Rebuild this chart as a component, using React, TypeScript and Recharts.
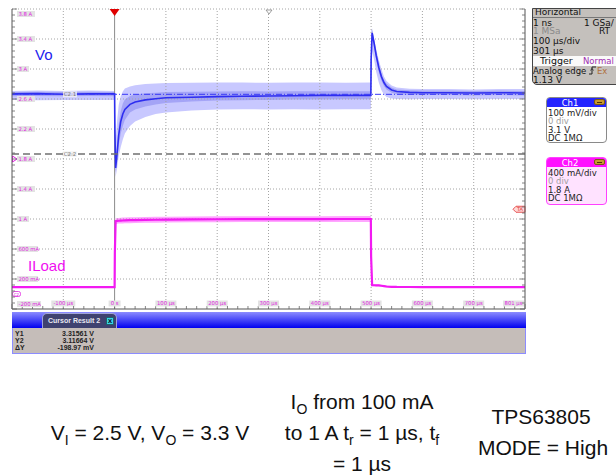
import React from 'react';
import { ComposedChart, Line, Area, XAxis, YAxis, ReferenceLine } from 'recharts';

// ---- data (time in µs) ----
const timeUs = [-200, -150, -100, -50, 0, 0.5, 2, 5, 8, 12, 16, 20, 30, 40, 60, 80, 100, 150, 200, 250, 300, 350, 400, 450, 499.5, 500, 502, 506, 510, 515, 520, 525, 530, 540, 550, 575, 600, 650, 700, 750, 800];

const voMean = [3.317, 3.318, 3.316, 3.317, 3.317, 3.2, 3.07, 3.12, 3.18, 3.225, 3.25, 3.265, 3.282, 3.29, 3.297, 3.301, 3.304, 3.306, 3.308, 3.309, 3.31, 3.311, 3.312, 3.312, 3.312, 3.43, 3.52, 3.485, 3.445, 3.405, 3.375, 3.355, 3.342, 3.33, 3.325, 3.322, 3.321, 3.321, 3.32, 3.321, 3.32];
const voOuterLo = [3.297, 3.296, 3.297, 3.297, 3.297, 3.1, 3.04, 3.07, 3.11, 3.14, 3.165, 3.185, 3.21, 3.225, 3.24, 3.25, 3.255, 3.262, 3.265, 3.266, 3.265, 3.266, 3.265, 3.266, 3.266, 3.3, 3.46, 3.43, 3.39, 3.355, 3.33, 3.315, 3.307, 3.302, 3.3, 3.299, 3.3, 3.3, 3.299, 3.3, 3.3];
const voOuterHi = [3.327, 3.328, 3.327, 3.328, 3.327, 3.31, 3.16, 3.23, 3.28, 3.31, 3.325, 3.335, 3.342, 3.346, 3.35, 3.352, 3.353, 3.354, 3.355, 3.355, 3.354, 3.355, 3.355, 3.354, 3.355, 3.53, 3.535, 3.5, 3.465, 3.43, 3.4, 3.375, 3.36, 3.345, 3.338, 3.334, 3.333, 3.333, 3.332, 3.333, 3.333];
const voInnerLo = [3.309, 3.31, 3.309, 3.31, 3.309, 3.14, 3.055, 3.095, 3.145, 3.185, 3.21, 3.23, 3.255, 3.265, 3.275, 3.282, 3.287, 3.292, 3.295, 3.296, 3.297, 3.298, 3.298, 3.299, 3.299, 3.36, 3.505, 3.47, 3.43, 3.39, 3.362, 3.343, 3.332, 3.321, 3.316, 3.314, 3.313, 3.313, 3.312, 3.313, 3.312];
const voInnerHi = [3.323, 3.324, 3.323, 3.324, 3.323, 3.26, 3.09, 3.15, 3.215, 3.26, 3.285, 3.298, 3.31, 3.315, 3.319, 3.321, 3.323, 3.324, 3.325, 3.326, 3.325, 3.326, 3.326, 3.326, 3.326, 3.48, 3.53, 3.495, 3.455, 3.415, 3.385, 3.365, 3.352, 3.338, 3.332, 3.329, 3.328, 3.328, 3.327, 3.328, 3.327];

const iLoad = [0.092, 0.093, 0.092, 0.093, 0.092, 0.55, 0.972, 0.975, 0.977, 0.979, 0.98, 0.982, 0.984, 0.986, 0.988, 0.99, 0.992, 0.995, 0.997, 0.998, 0.998, 0.999, 0.999, 1.0, 1.0, 0.5, 0.118, 0.117, 0.116, 0.114, 0.11, 0.105, 0.1, 0.096, 0.094, 0.093, 0.092, 0.092, 0.092, 0.092, 0.092];
const iLoadLo = [0.08, 0.081, 0.08, 0.081, 0.08, 0.5, 0.935, 0.937, 0.939, 0.94, 0.941, 0.943, 0.945, 0.947, 0.949, 0.951, 0.953, 0.956, 0.958, 0.959, 0.959, 0.96, 0.96, 0.961, 0.961, 0.45, 0.106, 0.105, 0.104, 0.102, 0.098, 0.093, 0.088, 0.084, 0.082, 0.081, 0.08, 0.08, 0.08, 0.08, 0.08];
const iLoadHi = [0.104, 0.105, 0.104, 0.105, 0.104, 0.6, 1.01, 1.013, 1.015, 1.017, 1.019, 1.021, 1.023, 1.025, 1.027, 1.029, 1.031, 1.034, 1.036, 1.037, 1.037, 1.038, 1.038, 1.039, 1.039, 0.55, 0.13, 0.129, 0.128, 0.126, 0.122, 0.117, 0.112, 0.108, 0.106, 0.105, 0.104, 0.104, 0.104, 0.104, 0.104];

// ---- axes / ticks ----
const xMajorTicks = [-200, -100, 0, 100, 200, 300, 400, 500, 600, 700, 800];
const xTickLabels = ['', '-100 µs', '0 s', '100 µs', '200 µs', '300 µs', '400 µs', '500 µs', '600 µs', '700 µs', '801 µs'];
const yMajorTicks = [-0.2, 0.2, 0.6, 1.0, 1.4, 1.8, 2.2, 2.6, 3.0, 3.4, 3.8];
const yTickLabels = ['-200 mA', '200 mA', '600 mA', '1 A', '1.4 A', '1.8 A', '2.2 A', '2.6 A', '3 A', '3.4 A', '3.8 A'];
const xMinorTicks = Array.from({ length: 51 }, (_, k) => -200 + 20 * k);
const yMinorTicks = Array.from({ length: 51 }, (_, k) => Math.round((-0.2 + 0.08 * k) * 1000) / 1000);

const iDomain = [-0.2, 3.8];
const vDomain = [2.6, 3.6];
const cursorY1 = 3.31561;
const cursorY2 = 3.11664;
const trigLevel = 1.13;
const horizPos = 301;
const ch2Offset = 1.8;

const cursorRows = [
  ['Y1', '3.31561 V'],
  ['Y2', '3.11664 V'],
  ['ΔY', '-198.97 mV'],
];

const data = timeUs.map((t, i) => ({
  t,
  vo: voMean[i],
  voOuter: [voOuterLo[i], voOuterHi[i]],
  voInner: [voInnerLo[i], voInnerHi[i]],
  il: iLoad[i],
  ilBand: [iLoadLo[i], iLoadHi[i]],
}));

const SCOPE_FONT = 'DejaVu Sans, sans-serif';
const ARIAL = 'Liberation Sans, Arial, sans-serif';
const LABEL_MAGENTA = '#e01ee0';

function XTick(props: any) {
  const { x, y, payload } = props;
  const v = payload.value;
  const mi = xMajorTicks.indexOf(v);
  const lab = mi >= 0 ? xTickLabels[mi] : '';
  const last = mi === xMajorTicks.length - 1;
  const w = lab.length * 3.0 + 3;
  const cx = last ? x - 1 - w / 2 : x;
  return (
    <g>
      <line x1={x} x2={x} y1={y} y2={y - (mi >= 0 ? 5 : 3)} stroke="#666" strokeWidth={0.8} />
      {lab ? (
        <g>
          <rect x={cx - w / 2} y={y - 8.5} width={w} height={6} fill="#e3e3e3" />
          <text x={cx} y={y - 3.7} textAnchor="middle" fontSize={5.3} fill={LABEL_MAGENTA} fontFamily={SCOPE_FONT}>{lab}</text>
        </g>
      ) : null}
    </g>
  );
}

function YTick(props: any) {
  const { x, y, payload } = props;
  const v = payload.value;
  const mi = yMajorTicks.findIndex((m) => Math.abs(m - v) < 1e-6);
  const lab = mi >= 0 ? yTickLabels[mi] : '';
  let cy = y;
  if (mi === yMajorTicks.length - 1) cy = y + 5;
  if (mi === 0) cy = y - 5;
  const w = lab.length * 3.0 + 3;
  return (
    <g>
      <line x1={x} x2={x + (mi >= 0 ? 5 : 3)} y1={y} y2={y} stroke="#666" strokeWidth={0.8} />
      {lab ? (
        <g>
          <rect x={x + 5} y={cy - 3} width={w} height={6} fill="#e3e3e3" />
          <text x={x + 6.5} y={cy + 1.9} fontSize={5.3} fill={LABEL_MAGENTA} fontFamily={SCOPE_FONT}>{lab}</text>
        </g>
      ) : null}
    </g>
  );
}

function RTick(props: any) {
  const { x, y, payload } = props;
  const v = payload.value;
  const major = yMajorTicks.some((m) => Math.abs(m - v) < 1e-6);
  return <line x1={x} x2={x - (major ? 5 : 3)} y1={y} y2={y} stroke="#666" strokeWidth={0.8} />;
}

const TrigMark = (props: any) => {
  const vb = props.viewBox;
  if (!vb) return null;
  return <polygon points={`${vb.x - 5},${vb.y} ${vb.x + 5},${vb.y} ${vb.x},${vb.y + 7}`} fill="#e00000" />;
};
const HPosMark = (props: any) => {
  const vb = props.viewBox;
  if (!vb) return null;
  return <polygon points={`${vb.x - 3},${vb.y + 1} ${vb.x + 3},${vb.y + 1} ${vb.x},${vb.y + 5}`} fill="#fff" stroke="#888" strokeWidth={0.8} />;
};
const CursorLabel = (props: any) => {
  const vb = props.viewBox;
  if (!vb) return null;
  const cx = vb.x + 58;
  return (
    <g>
      <rect x={cx - 7} y={vb.y - 3} width={14} height={6} fill="#f4f4f4" fillOpacity={0.8} />
      <text x={cx} y={vb.y + 2} textAnchor="middle" fontSize={5.5} fill="#777" fontFamily={SCOPE_FONT}>{props.text}</text>
    </g>
  );
};
const Ch2Mark = (props: any) => {
  const vb = props.viewBox;
  if (!vb) return null;
  return <polygon points={`${vb.x + 0.5},${vb.y - 3} ${vb.x + 5},${vb.y} ${vb.x + 0.5},${vb.y + 3}`} fill="#fff" stroke="#e020e0" strokeWidth={1} />;
};
const GndMark = (props: any) => {
  const vb = props.viewBox;
  if (!vb) return null;
  return (
    <g>
      <rect x={vb.x + 0.5} y={vb.y - 2.5} width={8} height={5} rx={2} fill="#fff" stroke="#e020e0" strokeWidth={0.8} />
      <text x={vb.x + 4.5} y={vb.y + 1.7} textAnchor="middle" fontSize={4} fill="#e020e0" fontFamily={SCOPE_FONT}>C2</text>
    </g>
  );
};
const TAMark = (props: any) => {
  const vb = props.viewBox;
  if (!vb) return null;
  const r = vb.x + vb.width;
  return (
    <g>
      <path d={`M ${r - 12} ${vb.y} L ${r - 9} ${vb.y - 3} L ${r} ${vb.y - 3} L ${r} ${vb.y + 3} L ${r - 9} ${vb.y + 3} Z`} fill="#ffd8d8" stroke="#e03030" strokeWidth={0.8} />
      <text x={r - 5} y={vb.y + 2} textAnchor="middle" fontSize={5} fill="#e03030" fontFamily={SCOPE_FONT}>TA</text>
    </g>
  );
};

const abs = (l: number, t: number, extra: React.CSSProperties = {}): React.CSSProperties => ({
  position: 'absolute', left: l, top: t, whiteSpace: 'nowrap', fontFamily: SCOPE_FONT, fontSize: 9, lineHeight: '8px', color: '#111', ...extra,
});

function ChBox(props: { top: number; height: number; head: string; headBg: string; bodyBg: string; border: string; lines: string[] }) {
  const { top, height, head, headBg, bodyBg, border, lines } = props;
  return (
    <div style={{ position: 'absolute', left: 546, top, width: 61, height, boxSizing: 'border-box', border: `1px solid ${border}`, borderRadius: 4, background: bodyBg, overflow: 'hidden' }}>
      <div style={{ position: 'absolute', left: 0, top: 0, width: 59, height: 9, background: headBg }} />
      <div style={{ position: 'absolute', left: 0, top: 0.5, width: 46, height: 9, textAlign: 'center', color: '#fff', fontFamily: SCOPE_FONT, fontSize: 8.5, lineHeight: '8px' }}>{head}</div>
      <div style={{ position: 'absolute', left: 47, top: 1, width: 11, height: 6, borderRadius: 2, background: '#c99a30', border: '1px solid #7a5a10', boxSizing: 'border-box' }}>
        <div style={{ position: 'absolute', left: 2, top: 1.5, width: 5, height: 1.5, background: '#4a3208' }} />
      </div>
      {lines.map((l, i) => (
        <div key={i} style={abs(1, 11 + i * 8.3, { fontSize: 8.5, lineHeight: '8px', color: i === 1 ? '#a0a0a0' : '#222' })}>{l}</div>
      ))}
    </div>
  );
}

export default function App() {
  return (
    <div style={{ position: 'absolute', left: 0, top: 0, width: 616, height: 476, background: '#fff', overflow: 'hidden' }}>
      <div style={{ position: 'absolute', left: 10, top: 7.5 }}>
        <ComposedChart width={517} height={303} data={data} margin={{ top: 1, right: 1, bottom: 1, left: 1 }}>
          <XAxis dataKey="t" type="number" domain={[-200, 800]} ticks={xMinorTicks} interval={0} orientation="bottom" height={1} tickSize={0} tickMargin={0} axisLine={{ stroke: '#555', strokeWidth: 1 }} tickLine={false} tick={(p: any) => <XTick {...p} />} allowDataOverflow />
          <YAxis yAxisId={0} type="number" domain={iDomain} ticks={yMinorTicks} interval={0} orientation="left" width={1} tickSize={0} tickMargin={0} axisLine={{ stroke: '#555', strokeWidth: 1 }} tickLine={false} tick={(p: any) => <YTick {...p} />} allowDataOverflow />
          <YAxis yAxisId="r" type="number" domain={iDomain} ticks={yMinorTicks} interval={0} orientation="right" width={1} tickSize={0} tickMargin={0} axisLine={{ stroke: '#555', strokeWidth: 1 }} tickLine={false} tick={(p: any) => <RTick {...p} />} allowDataOverflow />
          <YAxis yAxisId="v" type="number" domain={vDomain} hide allowDataOverflow />

          {xMajorTicks.slice(1, -1).map((v) => (
            <ReferenceLine key={'gx' + v} x={v} stroke={v === 0 ? '#8c8c8c' : '#a4a4a4'} strokeDasharray={v === 0 ? undefined : '1 2'} strokeWidth={1} />
          ))}
          {yMajorTicks.slice(1).map((v) => (
            <ReferenceLine key={'gy' + v} y={v} stroke="#a4a4a4" strokeDasharray="1 2" strokeWidth={1} />
          ))}

          <Area yAxisId={0} dataKey="ilBand" type="linear" stroke="none" fill="#ff9cff" fillOpacity={0.9} isAnimationActive={false} />
          <Line yAxisId={0} dataKey="il" type="linear" stroke="#f21af2" strokeWidth={2.2} dot={false} activeDot={false} isAnimationActive={false} />

          <Area yAxisId="v" dataKey="voOuter" type="linear" stroke="none" fill="#c8c8ff" fillOpacity={1} isAnimationActive={false} />
          <Area yAxisId="v" dataKey="voInner" type="linear" stroke="none" fill="#a4a4f6" fillOpacity={1} isAnimationActive={false} />
          <Line yAxisId="v" dataKey="vo" type="linear" stroke="#2e2ef0" strokeWidth={1.6} dot={false} activeDot={false} isAnimationActive={false} />

          <ReferenceLine yAxisId="v" y={cursorY1} stroke="#3a3af5" strokeDasharray="6 2 1 2" strokeWidth={1} label={<CursorLabel text="C2.1" />} />
          <ReferenceLine yAxisId="v" y={cursorY2} stroke="#707070" strokeDasharray="7 4" strokeWidth={1.3} label={<CursorLabel text="C2.2" />} />

          <ReferenceLine x={0} stroke="none" label={<TrigMark />} />
          <ReferenceLine x={horizPos} stroke="none" label={<HPosMark />} />
          <ReferenceLine y={ch2Offset} stroke="none" label={<Ch2Mark />} />
          <ReferenceLine y={0} stroke="none" label={<GndMark />} />
          <ReferenceLine y={trigLevel} stroke="none" label={<TAMark />} />
        </ComposedChart>
      </div>

      {/* Horizontal info box */}
      <div style={{ position: 'absolute', left: 532, top: 8, width: 100, height: 77, boxSizing: 'border-box', background: '#c4c0bc', border: '1px solid #444', borderBottomLeftRadius: 5, overflow: 'hidden' }}>
        <div style={abs(2, -1)}>Horizontal</div>
        <div style={{ position: 'absolute', left: 0, top: 8, width: 100, height: 1, background: '#777' }} />
        <div style={abs(0, 10)}>1 ns</div>
        <div style={abs(51, 10)}>1 GSa/</div>
        <div style={abs(0, 18, { color: '#8a8a8a' })}>1 MSa</div>
        <div style={abs(66, 18)}>RT</div>
        <div style={abs(0, 28)}>100 µs/div</div>
        <div style={abs(0, 38)}>301 µs</div>
        <div style={{ position: 'absolute', left: 0, top: 47, width: 100, height: 10, background: '#fafafa' }} />
        <div style={abs(7, 48, { fontSize: 9.5 })}>Trigger</div>
        <div style={abs(50, 48, { fontSize: 8.5, color: '#a030b0' })}>Normal</div>
        <div style={abs(0, 58, { fontSize: 8.5 })}>Analog edge</div>
        <svg style={{ position: 'absolute', left: 55, top: 57 }} width={9} height={9}>
          <path d="M1 8 L4 8 L4 1 L8 1" fill="none" stroke="#222" strokeWidth={1} />
          <path d="M2.5 4.5 L4 2.5 L5.5 4.5" fill="none" stroke="#222" strokeWidth={0.8} />
        </svg>
        <div style={abs(64, 58, { fontSize: 8.5, color: '#b07040' })}>Ex</div>
        <div style={abs(0, 67)}>1.13 V</div>
      </div>

      <ChBox top={97} height={46} head="Ch1" headBg="#2424ff" bodyBg="#ffffff" border="#8a8a8a" lines={['100 mV/div', '0 div', '3.1 V', 'DC 1MΩ']} />
      <ChBox top={157} height={48} head="Ch2" headBg="#ff10ff" bodyBg="#ffe2ff" border="#ff40ff" lines={['400 mA/div', '0 div', '1.8 A', 'DC 1MΩ']} />

      {/* Cursor result panel */}
      <div style={{ position: 'absolute', left: 12, top: 312, width: 514, height: 16, background: 'linear-gradient(#8c8cff, #0000f0)' }} />
      <div style={{ position: 'absolute', left: 42, top: 313, width: 75, height: 15, boxSizing: 'border-box', background: '#3f4270', border: '1px solid #a0a4d8', borderBottom: 'none', borderRadius: '5px 5px 0 0' }}>
        <div style={abs(5, 3, { fontFamily: ARIAL, fontSize: 7, lineHeight: '7px', fontWeight: 'bold', color: '#e8e8f0' })}>Cursor Result 2</div>
        <div style={{ position: 'absolute', left: 63, top: 2.5, width: 8, height: 8, background: '#38d8e8', border: '1px solid #206070', boxSizing: 'border-box', fontFamily: SCOPE_FONT, fontSize: 7, lineHeight: '6px', textAlign: 'center', fontWeight: 'bold', color: '#102030' }}>x</div>
      </div>
      <div style={{ position: 'absolute', left: 12, top: 328, width: 514, height: 26, boxSizing: 'border-box', background: '#c5bdb9', border: '1px solid #8c8cff', borderTop: 'none' }}>
        {cursorRows.map((r, i) => (
          <React.Fragment key={i}>
            <div style={abs(2, 1.5 + i * 7, { fontFamily: ARIAL, fontSize: 7, lineHeight: '7px', fontWeight: 'bold', color: '#222' })}>{r[0]}</div>
            <div style={abs(20, 1.5 + i * 7, { fontFamily: ARIAL, fontSize: 7, lineHeight: '7px', fontWeight: 'bold', color: '#222', width: 61, textAlign: 'right' })}>{r[1]}</div>
          </React.Fragment>
        ))}
      </div>

      {/* overlay labels & captions */}
      <svg style={{ position: 'absolute', left: 0, top: 0, pointerEvents: 'none' }} width={616} height={476}>
        <text x={35} y={60} fontFamily={ARIAL} fontSize={15} fill="#2222ee">Vo</text>
        <text x={28} y={271} fontFamily={ARIAL} fontSize={15} fill="#f010f0">ILoad</text>

        <g fontFamily={ARIAL} fontSize={21} fill="#111">
          <text x={150} y={440} textAnchor="middle">
            V<tspan fontSize={14} dy={5}>I</tspan><tspan dy={-5}> = 2.5 V, V</tspan><tspan fontSize={14} dy={5}>O</tspan><tspan dy={-5}> = 3.3 V</tspan>
          </text>
          <text x={362} y={409} textAnchor="middle">
            I<tspan fontSize={14} dy={5}>O</tspan><tspan dy={-5}> from 100 mA</tspan>
          </text>
          <text x={362} y={440} textAnchor="middle">
            to 1 A t<tspan fontSize={14} dy={5}>r</tspan><tspan dy={-5}> = 1 µs, t</tspan><tspan fontSize={14} dy={5}>f</tspan>
          </text>
          <text x={362} y={471} textAnchor="middle">= 1 µs</text>
          <text x={541} y={424} textAnchor="middle">TPS63805</text>
          <text x={543} y={455} textAnchor="middle">MODE = High</text>
        </g>
      </svg>
    </div>
  );
}
